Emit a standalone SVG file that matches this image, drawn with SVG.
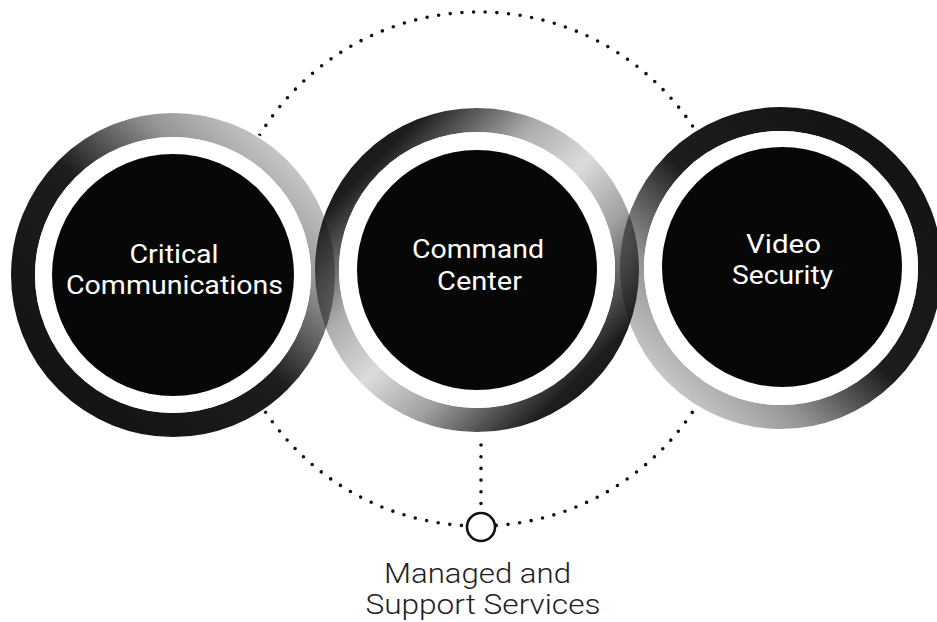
<svg xmlns="http://www.w3.org/2000/svg" width="937" height="622" viewBox="0 0 937 622">
<style>
.band{fill:none;stroke-width:24}
.gap{fill:#ffffff}
.disc{fill:#070707}
.lbl{font-family:Roboto,"Liberation Sans",Arial,sans-serif;font-size:26px;fill:#ffffff;text-anchor:middle}
.sub{font-family:Roboto,"Liberation Sans",Arial,sans-serif;font-size:28px;font-weight:300;fill:#1e1e1e;text-anchor:middle}
.dots{fill:none;stroke:#111;stroke-width:3.6;stroke-linecap:round;stroke-dasharray:0 11.7}
</style>
<defs>
<linearGradient id="gLeft" x1="0" y1="1" x2="1" y2="0">
<stop offset="0" stop-color="#111" stop-opacity="1"/>
<stop offset="0.5" stop-color="#111" stop-opacity="0.95"/>
<stop offset="0.72" stop-color="#111" stop-opacity="0.45"/>
<stop offset="0.95" stop-color="#111" stop-opacity="0.15"/>
</linearGradient>
<linearGradient id="gCenter" x1="0" y1="0" x2="1" y2="1">
<stop offset="0" stop-color="#111" stop-opacity="1"/>
<stop offset="0.15" stop-color="#111" stop-opacity="0.95"/>
<stop offset="0.35" stop-color="#111" stop-opacity="0.35"/>
<stop offset="0.5" stop-color="#111" stop-opacity="0.15"/>
<stop offset="0.65" stop-color="#111" stop-opacity="0.4"/>
<stop offset="0.85" stop-color="#111" stop-opacity="0.95"/>
<stop offset="1" stop-color="#111" stop-opacity="1"/>
</linearGradient>
<linearGradient id="gRight" x1="1" y1="0" x2="0" y2="1">
<stop offset="0" stop-color="#111" stop-opacity="1"/>
<stop offset="0.5" stop-color="#111" stop-opacity="0.95"/>
<stop offset="0.72" stop-color="#111" stop-opacity="0.45"/>
<stop offset="0.95" stop-color="#111" stop-opacity="0.15"/>
</linearGradient>
<mask id="ringMask" maskUnits="userSpaceOnUse" x="0" y="0" width="937" height="622">
<rect x="0" y="0" width="937" height="622" fill="#fff"/>
<circle cx="173" cy="275" r="164" fill="#000"/>
<circle cx="477" cy="270" r="164" fill="#000"/>
<circle cx="781" cy="268" r="162" fill="#000"/>
</mask>
</defs>
<rect x="0" y="0" width="937" height="622" fill="#ffffff"/>
<g id="connectors">
<circle class="dots" cx="479" cy="269" r="257" mask="url(#ringMask)"/>
<line class="dots" x1="481" y1="445" x2="481" y2="506"/>
</g>
<g id="node-critical-communications">
<circle class="band" cx="173" cy="275" r="150" stroke="url(#gLeft)"/>
<circle class="gap" cx="173" cy="275" r="138"/>
<circle class="disc" cx="173" cy="275" r="121"/>
<text class="lbl" x="174" y="263" textLength="89" lengthAdjust="spacingAndGlyphs">Critical</text>
<text class="lbl" x="174.5" y="294" textLength="217" lengthAdjust="spacingAndGlyphs">Communications</text>
</g>
<g id="node-command-center">
<circle class="band" cx="477" cy="270" r="150" stroke="url(#gCenter)"/>
<circle class="gap" cx="477" cy="270" r="138"/>
<circle class="disc" cx="477" cy="270" r="120"/>
<text class="lbl" x="478" y="258" textLength="132" lengthAdjust="spacingAndGlyphs">Command</text>
<text class="lbl" x="479.5" y="290" textLength="85" lengthAdjust="spacingAndGlyphs">Center</text>
</g>
<g id="node-video-security">
<circle class="band" cx="781" cy="268" r="149" stroke="url(#gRight)"/>
<circle class="gap" cx="781" cy="268" r="137"/>
<circle class="disc" cx="782" cy="267" r="120"/>
<text class="lbl" x="783.5" y="253" textLength="75" lengthAdjust="spacingAndGlyphs">Video</text>
<text class="lbl" x="782.5" y="284" textLength="101" lengthAdjust="spacingAndGlyphs">Security</text>
</g>
<g id="node-managed-support">
<circle cx="481" cy="527" r="14" fill="#fff" stroke="#111" stroke-width="2.6"/>
<text class="sub" x="477.5" y="583" textLength="187" lengthAdjust="spacingAndGlyphs">Managed and</text>
<text class="sub" x="483" y="614" textLength="235" lengthAdjust="spacingAndGlyphs">Support Services</text>
</g>
</svg>
